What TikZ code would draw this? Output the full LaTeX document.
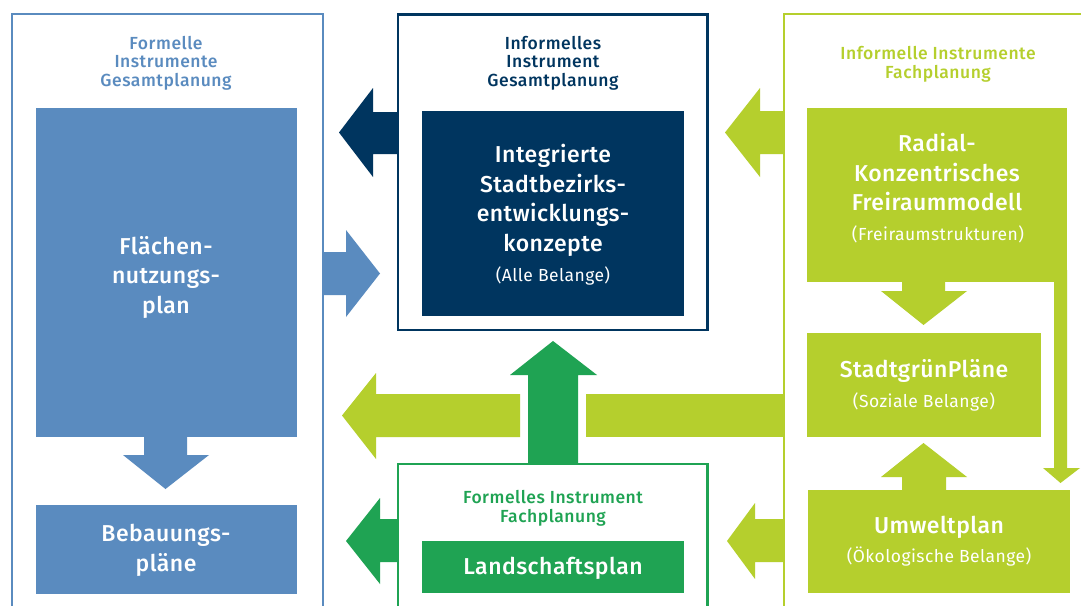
\documentclass[tikz,border=0pt]{standalone}
\usepackage{fontspec}
\setmainfont{Fira Sans}[BoldFont={Fira Sans Medium}]
\newfontfamily\headfont{Fira Sans Medium}[LetterSpace=3]
\newfontfamily\mainfont{Fira Sans Medium}[LetterSpace=2]
\newfontfamily\subfont{Fira Sans}[LetterSpace=2.5]
\definecolor{lblue}{HTML}{5A8BBF}
\definecolor{navy}{HTML}{00355F}
\definecolor{ygreen}{HTML}{B5CF2D}
\definecolor{dgreen}{HTML}{1FA353}
\tikzset{
  boxfill/.style={fill=#1, draw=none},
  frameline/.style={draw=#1, line width=2.4pt},
  headtext/.style={text=#1, font=\headfont\fontsize{17.5}{18.6}\selectfont, align=center, inner sep=0pt},
  maintext/.style={text=white, font=\mainfont\fontsize{23}{29.5}\selectfont, align=center, inner sep=0pt},
  subtext/.style={text=white, font=\subfont\fontsize{17.5}{20}\selectfont, inner sep=0pt},
}
\begin{document}
\begin{tikzpicture}[x=1pt,y=-1pt]
\useasboundingbox (0,0) rectangle (1081,605);
\fill[white] (0,0) rectangle (1081,605);

% frames
\draw[frameline=lblue, line width=2pt] (12,610) -- (12,14) -- (323,14) -- (323,610);
\draw[frameline=navy] (398,14.5) rectangle (707.5,330);
\draw[frameline=dgreen] (398,610) -- (398,464) -- (707.5,464) -- (707.5,610);
\draw[frameline=ygreen] (784,610) -- (784,14) -- (1090,14);

% boxes
\node[boxfill=lblue, minimum width=261pt, minimum height=329pt, anchor=north west] (fnp) at (36,108) {};
\node[boxfill=lblue, minimum width=261pt, minimum height=89pt, anchor=north west] (bplan) at (36,505) {};
\node[boxfill=navy, minimum width=262pt, minimum height=205pt, anchor=north west] (isek) at (422,111) {};
\node[boxfill=ygreen, minimum width=260pt, minimum height=174pt, anchor=north west] (radial) at (807,108) {};
\node[boxfill=ygreen, minimum width=234pt, minimum height=104pt, anchor=north west] (sgp) at (807,333) {};
\node[boxfill=ygreen, minimum width=262pt, minimum height=103pt, anchor=north west] (umwelt) at (808,490) {};
\node[boxfill=dgreen, minimum width=262pt, minimum height=52pt, anchor=north west] (lsp) at (422,541) {};

% headings
\node[headtext=lblue] (h1) at (166,63) {Formelle\\Instrumente\\Gesamtplanung};
\node[headtext=navy] (h2) at (553,63) {Informelles\\Instrument\\Gesamtplanung};
\node[headtext=ygreen] (h3) at (938,64.5) {Informelle Instrumente\\Fachplanung};
\node[headtext=dgreen] (h4) at (553,508.5) {Formelles Instrument\\Fachplanung};

% box texts
\node[maintext] (t1) at (166,277) {Flächen-\\nutzungs-\\plan};
\node[maintext] (t2) at (166,550.5) {Bebauungs-\\pläne};
\node[maintext] (t3) at (553,200.5) {Integrierte\\Stadtbezirks-\\entwicklungs-\\konzepte};
\node[subtext] (s3) at (553,276) {(Alle Belange)};
\node[maintext] (t4) at (937,172.5) {Radial-\\Konzentrisches\\Freiraummodell};
\node[subtext] (s4) at (938,234) {(Freiraumstrukturen)};
\node[maintext] (t5) at (924,371) {StadtgrünPläne};
\node[subtext] (s5) at (924,402) {(Soziale Belange)};
\node[maintext] (t6) at (939,527) {Umweltplan};
\node[subtext] (s6) at (939,557) {(Ökologische Belange)};
\node[maintext] (t7) at (553,568) {Landschaftsplan};

% block arrows
% navy left
\fill[navy] (397,112) -- (373,112) -- (373,88) -- (339,132.5) -- (373,177) -- (373,154) -- (397,154) -- cycle;
% light blue right
\fill[lblue] (323,252) -- (346,252) -- (346,230) -- (380,273.5) -- (346,317) -- (346,295) -- (323,295) -- cycle;
% yellow-green top left
\fill[ygreen] (784,111) -- (760,111) -- (760,88) -- (725,132.5) -- (760,177) -- (760,154) -- (784,154) -- cycle;
% big yellow-green left, interrupted
\fill[ygreen] (586,394) rectangle (784,437);
\fill[ygreen] (520,394) -- (376,394) -- (376,373) -- (342,415.5) -- (376,459) -- (376,437) -- (520,437) -- cycle;
% green up
\fill[dgreen] (528,464) -- (528,375) -- (510,375) -- (553,341) -- (597,375) -- (578,375) -- (578,464) -- cycle;
% green left bottom
\fill[dgreen] (397,519) -- (380,519) -- (380,498) -- (346,541) -- (380,584) -- (380,562) -- (397,562) -- cycle;
% yellow-green bottom left
\fill[ygreen] (784,519) -- (755,519) -- (755,503) -- (727,541) -- (755,579) -- (755,562) -- (784,562) -- cycle;
% light blue down
\fill[lblue] (144,437) -- (144,455) -- (123,455) -- (165.5,489) -- (209,455) -- (187,455) -- (187,437) -- cycle;
% radial -> stadtgruen
\fill[ygreen] (902,282) -- (902,291) -- (881,291) -- (923.5,325) -- (967,291) -- (945,291) -- (945,282) -- cycle;
% umwelt -> stadtgruen
\fill[ygreen] (902,490) -- (902,477) -- (881,477) -- (923.5,443) -- (967,477) -- (946,477) -- (946,490) -- cycle;
% strip radial -> umwelt
\fill[ygreen] (1054,270) -- (1054,468) -- (1043,468) -- (1060.5,483) -- (1080,468) -- (1067,468) -- (1067,270) -- cycle;
\end{tikzpicture}
\end{document}
